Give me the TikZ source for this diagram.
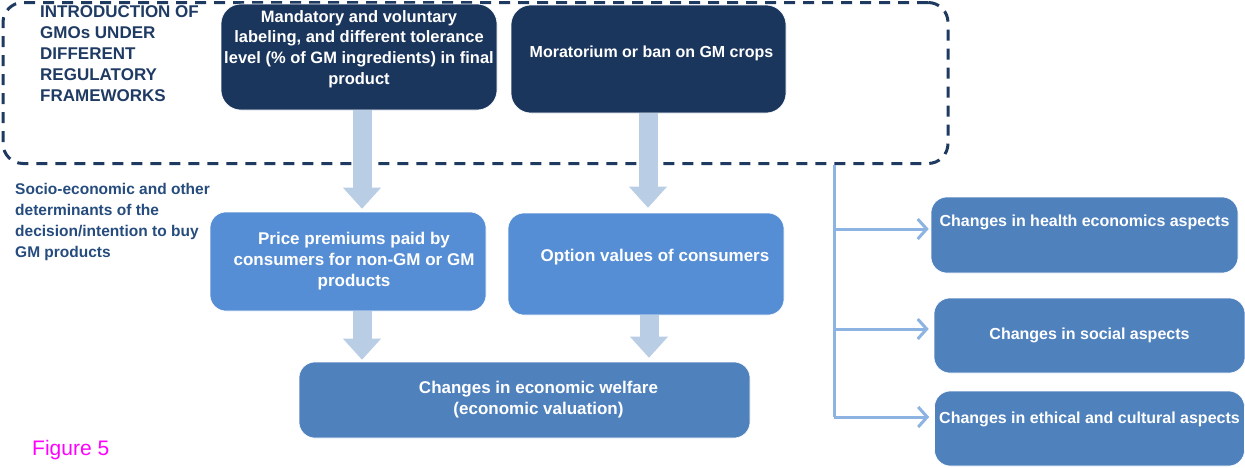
\documentclass[tikz,border=0pt]{standalone}
\usepackage{fontspec}
\setmainfont{Liberation Sans}
\usetikzlibrary{arrows.meta,calc}
\definecolor{navy}{HTML}{1B365D}
\definecolor{framec}{HTML}{1F3A60}
\definecolor{lightarrow}{HTML}{B9CDE5}
\definecolor{midblue}{HTML}{558ED5}
\definecolor{steel}{HTML}{4F81BD}
\definecolor{trunkc}{HTML}{8DB3E2}
\definecolor{textnavy}{HTML}{1F3B63}
\definecolor{socioc}{HTML}{254C7D}
\definecolor{figmag}{HTML}{FF00FF}
\begin{document}
\begin{tikzpicture}[x=1pt,y=-1pt,
  boxtext/.style={font=\fontsize{16}{20.7}\selectfont\bfseries, text=white, align=center},
  bigtext/.style={font=\fontsize{17}{21}\selectfont\bfseries, text=white, align=center},
  box/.style={rounded corners=16pt, draw=white, line width=0.6pt, inner sep=0pt, boxtext},
  navybox/.style={box, rounded corners=20pt, fill=navy},
  midbox/.style={box, fill=midblue},
  steelbox/.style={box, fill=steel},
  blockarrow/.style={draw=lightarrow, line width=19pt, -{Triangle[length=21pt,width=38pt,line width=0pt]}},
  branch/.style={draw=trunkc, line width=3pt, -{Straight Barb[length=9pt,width=20pt]}},
  trunk/.style={draw=trunkc, line width=3pt},
  frame/.style={draw=framec, line width=3pt, dash pattern=on 11pt off 8pt, rounded corners=20pt, inner sep=0pt}
]
\useasboundingbox (0,0) rectangle (1245,467);

% dashed frame
\node[frame, minimum width=945pt, minimum height=161pt] (frame) at (475.5,83) {};

% coordinates for arrow axes
\coordinate (a1) at (362,0);
\coordinate (a2) at (648,0);
\coordinate (a3) at (362,0);
\coordinate (a4) at (649,0);
\coordinate (t1) at (834,229);
\coordinate (t2) at (834,329);
\coordinate (t3) at (834,417);

% boxes
\node[navybox, minimum width=276pt, minimum height=106pt,
  label={[boxtext, font=\fontsize{16.5}{20.7}\selectfont\bfseries, yshift=8pt]center:Mandatory and voluntary\\labeling, and different tolerance\\level (\% of GM ingredients) in final\\product}] (b1) at (359,57) {};
\node[navybox, minimum width=275pt, minimum height=108pt,
  label={[boxtext, yshift=6pt, xshift=3pt]center:Moratorium or ban on GM crops}] (b2) at (648.5,59) {};
\node[midbox, minimum width=276pt, minimum height=99pt,
  label={[bigtext, xshift=6pt]center:Price premiums paid by\\consumers for non-GM or GM\\products}] (b3) at (348,261.5) {};
\node[midbox, minimum width=276pt, minimum height=102pt,
  label={[bigtext, yshift=7pt, xshift=9pt]center:Option values of consumers}] (b4) at (646,264) {};
\node[steelbox, minimum width=451pt, minimum height=76pt,
  label={[bigtext, xshift=14pt]center:Changes in economic welfare\\(economic valuation)}] (b5) at (524.5,400) {};
\node[steelbox, minimum width=307pt, minimum height=76pt,
  label={[boxtext, yshift=13pt]center:Changes in health economics aspects}] (b6) at (1084.5,235) {};
\node[steelbox, minimum width=311pt, minimum height=75pt] (b7) at (1089.5,335.5)
  {Changes in social aspects};
\node[steelbox, minimum width=310pt, minimum height=75pt,
  label={[boxtext, yshift=9pt]center:Changes in ethical and cultural aspects}] (b8) at (1089.5,428.5) {};

% block arrows
\draw[blockarrow, shorten >=3pt] (b1.south -| a1) -- (b3.north -| a1);
\draw[blockarrow, shorten >=5pt] (b2.south -| a2) -- (b4.north -| a2);
\draw[blockarrow, shorten >=2pt] (b3.south -| a3) -- (b5.north -| a3);
\draw[blockarrow, shorten >=4pt] (b4.south -| a4) -- (b5.north -| a4);

% right connector
\draw[trunk] (frame.south -| t1) -- (t3);
\draw[branch, shorten >=2pt] (t1) -- (b6.west |- t1);
\draw[branch, shorten >=5pt] (t2) -- (b7.west |- t2);
\draw[branch, shorten >=5pt] (t3) -- (b8.west |- t3);

% free texts
\node[anchor=north west, inner sep=0pt, align=left, text=textnavy,
  font=\fontsize{17}{21}\selectfont\bfseries] (title) at (40,5)
  {INTRODUCTION OF\\GMOs UNDER\\DIFFERENT\\REGULATORY\\FRAMEWORKS};
\node[anchor=north west, inner sep=0pt, align=left, text=socioc,
  font=\fontsize{15.5}{21}\selectfont\bfseries] (socio) at (15,183)
  {Socio-economic and other\\determinants of the\\decision/intention to buy\\GM products};
\node[anchor=west, inner sep=0pt, text=figmag, font=\fontsize{21}{24}\selectfont] (fig) at (32,450) {Figure 5};
\end{tikzpicture}
\end{document}
